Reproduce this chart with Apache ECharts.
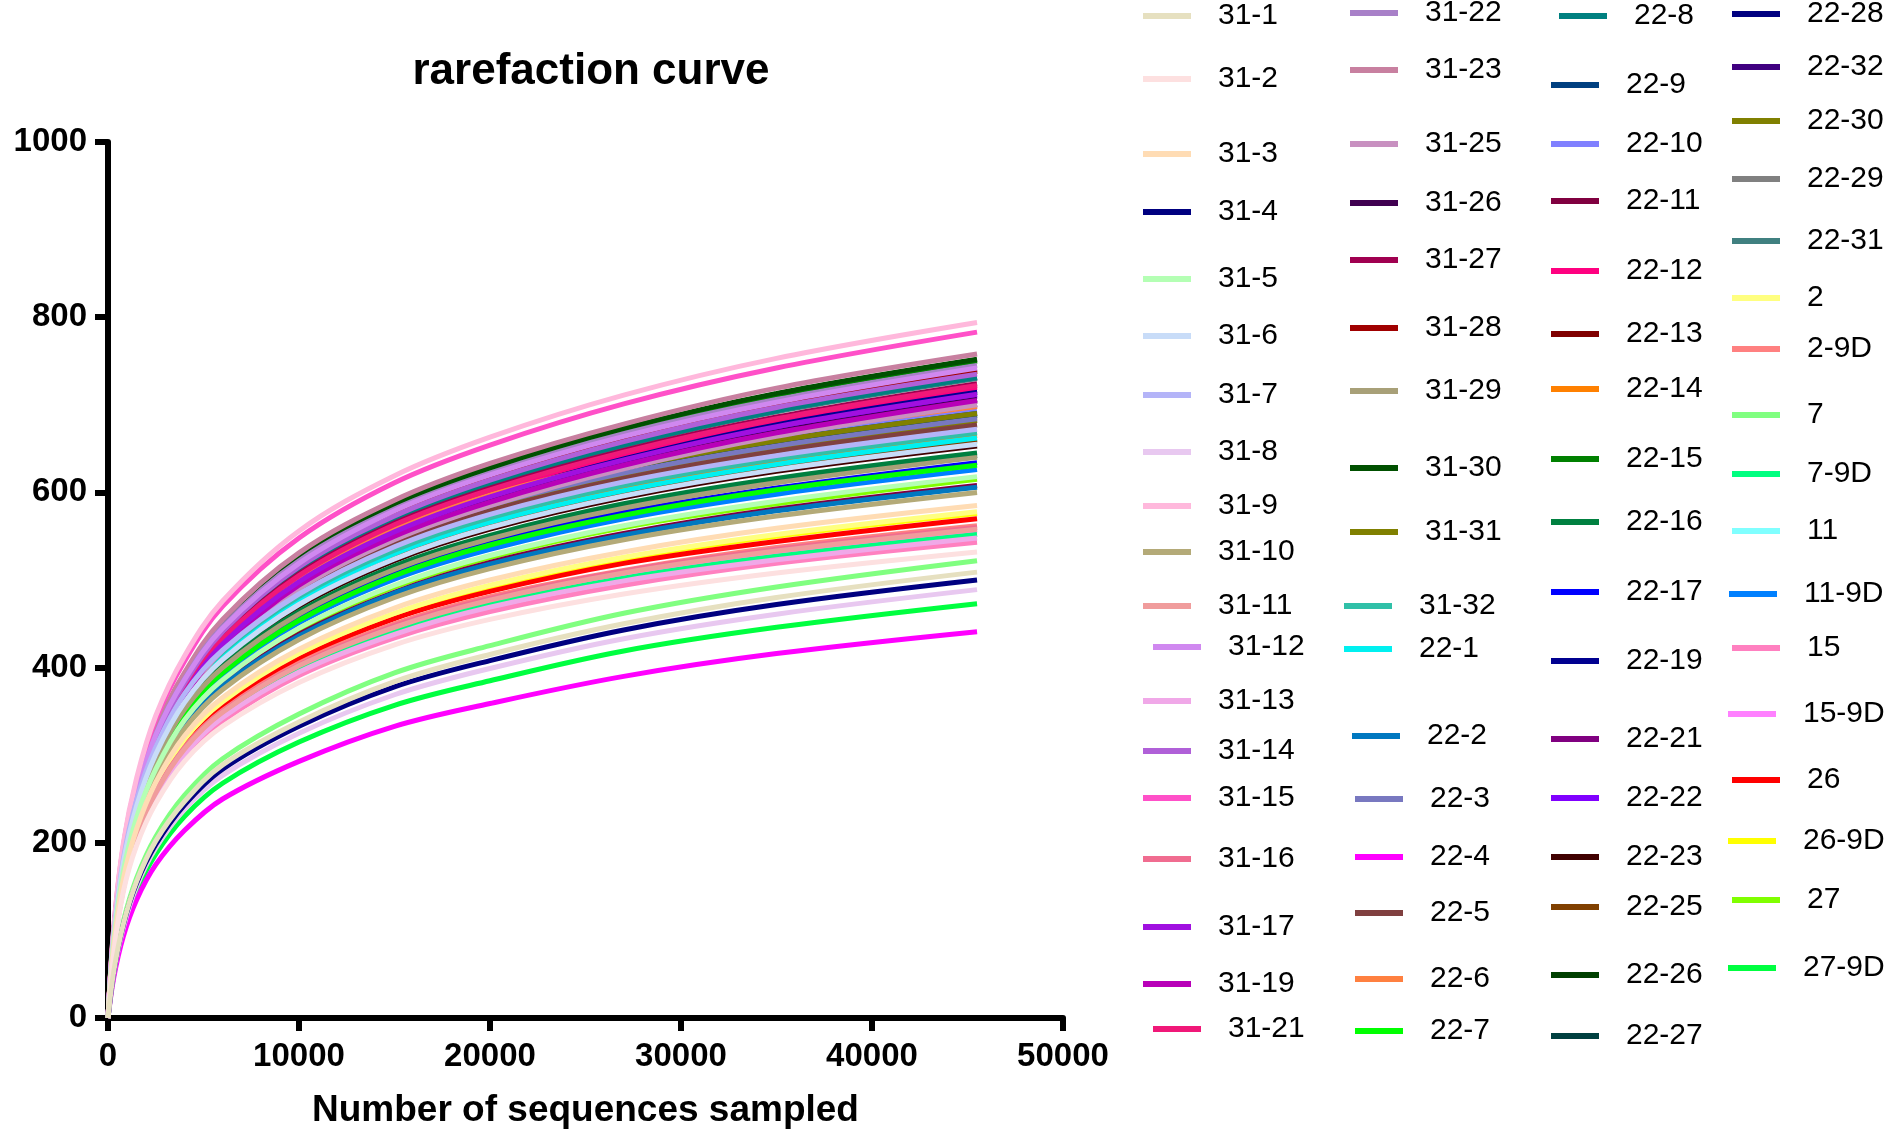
<!DOCTYPE html>
<html>
<head>
<meta charset="utf-8">
<title>rarefaction curve</title>
<script src="https://cdn.jsdelivr.net/npm/echarts@6/dist/echarts.min.js"></script>
<style>
  html, body { margin: 0; padding: 0; background: #fff; }
  #main { width: 1890px; height: 1137px; }
</style>
</head>
<body>
<div id="main"></div>
<script>
var sampleDepth = [0, 300, 800, 1500, 2500, 4000, 6000, 10000, 15000, 20000, 27000, 35000, 45500];

var sampleNames = [
  '31-1','31-2','31-3','31-4','31-5','31-6','31-7','31-8','31-9','31-10',
  '31-11','31-12','31-13','31-14','31-15','31-16','31-17','31-19','31-21',
  '31-22','31-23','31-25','31-26','31-27','31-28','31-29','31-30','31-31','31-32',
  '22-1','22-2','22-3','22-4','22-5','22-6','22-7',
  '22-8','22-9','22-10','22-11','22-12','22-13','22-14','22-15','22-16','22-17',
  '22-19','22-21','22-22','22-23','22-25','22-26','22-27',
  '22-28','22-32','22-30','22-29','22-31','2','2-9D','7','7-9D','11','11-9D',
  '15','15-9D','26','26-9D','27','27-9D'
];

var lineColors = [
  '#e6e0c0','#fde0e0','#ffdcb4','#000080','#b4ffb4','#c8dcf8','#b4b4f8','#e8c8f0','#ffb8dc','#b4aa78',
  '#f09c9c','#d088f0','#f0a8e8','#b060d8','#ff50c8','#f06c90','#a010e0','#b800b8','#f01878',
  '#a880c8','#c880a0','#c890c0','#400050','#a00050','#a00000','#a8a078','#005000','#808000','#30c0a8',
  '#00f0f0','#0078c0','#7878c0','#ff00ff','#804040','#ff8040','#00ff00',
  '#008080','#004080','#8080ff','#800040','#ff0080','#800000','#ff8000','#008000','#008040','#0000ff',
  '#000090','#800080','#8000ff','#400000','#804000','#004000','#004040',
  '#000080','#400080','#808000','#808080','#408080','#ffff80','#ff8080','#80ff80','#00ff80','#80ffff','#0080ff',
  '#ff80c0','#ff80ff','#ff0000','#ffff00','#80ff00','#00ff40'
];

// OTU observed at each sampleDepth, same order as sampleNames
var otuObserved = [
  [0,53,107,156,202,247,289,338,384,415,450,480,509],
  [0,74,144,197,245,293,333,383,426,455,484,508,532],
  [0,82,158,216,269,322,366,421,468,500,532,559,585],
  [0,52,106,154,198,243,284,333,378,408,443,472,500],
  [0,87,167,229,284,340,386,445,494,528,562,590,618],
  [0,92,177,242,301,360,409,472,524,560,596,626,655],
  [0,94,181,249,309,370,420,484,538,575,612,642,672],
  [0,51,103,150,194,238,277,325,369,399,433,461,489],
  [0,103,199,274,345,413,476,556,619,663,711,753,794],
  [0,84,162,222,276,330,375,432,480,513,546,573,600],
  [0,78,151,206,257,307,349,402,446,477,508,533,558],
  [0,96,186,256,323,386,445,519,579,620,664,703,742],
  [0,77,148,203,252,301,343,395,438,469,499,523,548],
  [0,96,184,254,320,382,441,515,573,614,658,697,735],
  [0,102,196,270,341,407,470,548,611,654,701,742,783],
  [0,78,151,207,258,308,350,403,448,479,510,535,560],
  [0,93,178,246,310,370,427,498,555,595,637,675,712],
  [0,92,176,243,307,367,423,494,550,589,631,668,705],
  [0,94,181,249,314,375,433,505,563,603,646,684,722],
  [0,97,186,257,324,387,447,522,581,622,667,706,745],
  [0,99,190,262,330,394,455,531,591,633,678,719,758],
  [0,91,175,242,305,364,420,490,546,585,627,664,700],
  [0,92,177,244,307,367,424,494,551,590,632,669,706],
  [0,94,181,250,315,376,434,507,565,605,648,686,724],
  [0,96,185,255,321,384,443,517,576,616,661,700,738],
  [0,90,173,237,294,352,400,461,512,547,582,611,640],
  [0,98,188,259,327,391,451,526,587,628,673,713,752],
  [0,97,186,255,317,380,431,497,552,590,628,659,690],
  [0,94,180,247,307,367,418,481,534,571,608,638,668],
  [0,93,179,245,305,364,414,477,530,566,602,632,662],
  [0,85,164,224,279,333,379,436,485,518,551,579,606],
  [0,96,185,253,315,376,428,492,547,585,622,653,684],
  [0,46,93,135,175,214,250,293,333,359,390,416,441],
  [0,95,183,250,311,372,423,487,542,579,616,647,677],
  [0,98,188,258,321,384,436,503,558,597,635,667,698],
  [0,88,170,233,290,347,394,454,505,540,574,603,631],
  [0,95,183,252,318,380,439,512,570,610,654,693,731],
  [0,97,186,255,317,380,431,497,552,590,628,659,690],
  [0,97,187,256,319,381,433,499,554,593,631,662,693],
  [0,85,164,225,280,334,380,438,486,520,553,581,608],
  [0,94,180,248,313,374,432,504,562,601,644,683,720],
  [0,96,185,255,322,385,444,518,577,618,662,702,740],
  [0,93,180,246,306,366,416,479,532,569,605,635,665],
  [0,98,188,259,326,390,450,525,585,626,671,711,750],
  [0,90,174,239,297,355,403,464,516,551,587,616,645],
  [0,89,171,235,292,349,396,456,507,542,577,605,634],
  [0,93,179,247,311,372,430,501,558,598,641,679,716],
  [0,92,176,243,306,366,422,493,549,588,630,667,704],
  [0,92,178,245,309,369,426,497,554,593,635,673,710],
  [0,91,176,242,300,359,408,470,522,558,594,624,653],
  [0,92,178,244,304,363,413,475,528,564,601,630,660],
  [0,90,173,238,295,353,401,462,514,549,584,613,642],
  [0,96,186,255,316,378,430,495,550,588,626,657,688],
  [0,93,179,246,311,371,428,500,557,596,639,677,714],
  [0,91,175,242,305,364,420,490,546,585,627,664,700],
  [0,95,184,252,314,375,426,491,546,583,621,651,682],
  [0,96,185,254,316,377,429,494,549,587,624,655,686],
  [0,95,183,252,318,380,438,511,569,610,653,692,730],
  [0,81,156,214,266,318,361,416,462,494,526,552,578],
  [0,79,152,208,259,309,351,405,450,481,511,537,562],
  [0,54,110,160,207,254,296,347,394,425,462,492,522],
  [0,77,149,204,254,304,345,397,442,472,502,527,552],
  [0,92,178,243,303,362,411,474,526,563,599,628,658],
  [0,88,169,232,288,344,391,451,501,535,570,598,626],
  [0,76,147,201,250,299,339,391,434,464,494,519,543],
  [0,78,150,206,256,306,348,400,445,475,506,531,556],
  [0,80,154,211,262,314,356,410,456,487,519,544,570],
  [0,81,156,213,265,317,360,415,461,492,524,550,576],
  [0,86,166,228,283,338,384,443,492,526,560,587,615],
  [0,49,100,145,187,230,268,315,357,385,419,446,473]
];

var xTicks = [0, 10000, 20000, 30000, 40000, 50000];
var yTicks = [0, 200, 400, 600, 800, 1000];

// legend layout (4 columns, graphpad style uneven rows)
var legendColX = [1143, 1350, 1551, 1732];
var legendColSize = [19, 17, 17, 17];
var legendRowY = [
  [16,79,154,212,279,336,395,452,506,552,606,647,701,751,798,859,927,984,1029],
  [13,70,144,203,260,328,391,468,532,606,649,736,799,857,913,979,1031],
  [16,85,144,201,271,334,389,459,522,592,661,739,798,857,907,975,1036],
  [14,67,121,179,241,298,349,415,474,531,594,648,714,780,841,900,968]
];
var legendShift = {'31-12':10,'31-21':10,'31-32':-6,'22-1':-6,'22-2':2,'22-3':5,'22-4':5,'22-5':5,
  '22-6':5,'22-7':5,'22-8':8,'11-9D':-3,'15-9D':-4,'26-9D':-4,'27-9D':-4};

var FONT = "'Liberation Sans', Arial, Helvetica, sans-serif";

var chart = echarts.init(document.getElementById('main'), null, {renderer: 'canvas'});

var legends = [];
var k = 0;
for (var c = 0; c < 4; c++) {
  for (var r = 0; r < legendColSize[c]; r++) {
    var nm = sampleNames[k];
    legends.push({
      data: [nm],
      left: legendColX[c] + (legendShift[nm] || 0),
      top: legendRowY[c][r] - 15,
      padding: 0,
      icon: 'rect',
      itemWidth: 48,
      itemHeight: 6,
      selectedMode: false,
      textStyle: {
        fontFamily: FONT,
        fontSize: 30,
        lineHeight: 30,
        color: '#000',
        padding: [0, 0, 0, 22]
      }
    });
    k++;
  }
}

var series = [];
for (var i = sampleNames.length - 1; i >= 0; i--) {
  var pts = [];
  for (var j = 0; j < sampleDepth.length; j++) {
    pts.push([sampleDepth[j], otuObserved[i][j]]);
  }
  series.push({
    name: sampleNames[i],
    type: 'line',
    data: pts,
    smooth: 0.35,
    showSymbol: false,
    color: lineColors[i],
    lineStyle: {width: 5, color: lineColors[i]}
  });
}

function plainNum(v) { return String(v); }

chart.setOption({
  animation: false,
  backgroundColor: '#fff',
  title: {
    text: 'rarefaction curve',
    left: 586,
    top: 45,
    textAlign: 'center',
    textStyle: {fontFamily: FONT, fontSize: 44, fontWeight: 'bold', color: '#000'}
  },
  legend: legends,
  grid: {left: 108, right: 827, top: 142, bottom: 119, containLabel: false, outerBoundsMode: 'none'},
  xAxis: {
    type: 'value',
    min: xTicks[0],
    max: xTicks[xTicks.length - 1],
    interval: xTicks[1] - xTicks[0],
    name: 'Number of sequences sampled',
    nameLocation: 'middle',
    nameGap: 74,
    nameTextStyle: {fontFamily: FONT, fontSize: 37, fontWeight: 'bold', color: '#000'},
    axisLine: {lineStyle: {color: '#000', width: 6}},
    axisTick: {inside: false, length: 13, lineStyle: {color: '#000', width: 6}},
    axisLabel: {margin: 22, fontFamily: FONT, fontSize: 33, fontWeight: 'bold', color: '#000', formatter: plainNum},
    splitLine: {show: false}
  },
  yAxis: {
    type: 'value',
    min: yTicks[0],
    max: yTicks[yTicks.length - 1],
    interval: yTicks[1] - yTicks[0],
    name: 'OTU observed',
    nameLocation: 'middle',
    nameGap: 68,
    nameTextStyle: {fontFamily: FONT, fontSize: 37, fontWeight: 'bold', color: '#000', padding: [0, 0, 0, 174]},
    axisLine: {lineStyle: {color: '#000', width: 6}},
    axisTick: {inside: false, length: 13, lineStyle: {color: '#000', width: 6}},
    axisLabel: {margin: 21, fontFamily: FONT, fontSize: 33, fontWeight: 'bold', color: '#000', formatter: plainNum},
    splitLine: {show: false}
  },
  series: series
});
</script>
</body>
</html>
